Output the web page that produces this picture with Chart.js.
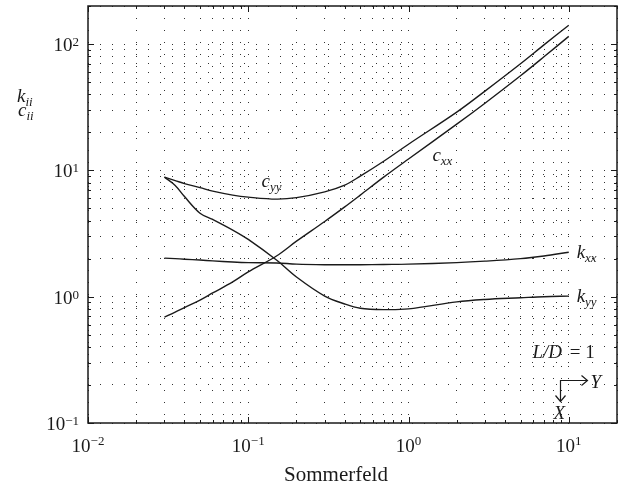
<!DOCTYPE html>
<html>
<head>
<meta charset="utf-8">
<script src="https://cdn.jsdelivr.net/npm/chart.js@4.4.1/dist/chart.umd.min.js"></script>
<style>
body{margin:0;background:#fff;}
#wrap{width:626px;height:491px;}
</style>
</head>
<body>
<div id="wrap"><canvas id="myChart" width="626" height="491"></canvas></div>
<script>
// Sommerfeld number (x) and coefficients
const sommerfeld = [0.03,0.035,0.04,0.05,0.06,0.08,0.1,0.15,0.2,0.3,0.4,0.5,0.7,1,2,3,5,7,10];
const cyy = [8.83,8.30,7.85,7.30,6.84,6.37,6.14,5.92,6.08,6.76,7.64,9.0,11.8,16.1,28.9,42.4,69.8,98.4,141];
const cxx = [0.69,0.755,0.82,0.94,1.07,1.31,1.57,2.10,2.75,3.94,5.14,6.37,8.84,12.3,23.2,34.0,56.1,79.2,115];
const kyy = [8.83,7.6,6.2,4.58,4.09,3.37,2.84,1.95,1.43,1.01,0.875,0.81,0.79,0.80,0.91,0.95,0.98,1.0,1.01];
const kxx = [2.02,2.0,1.98,1.95,1.92,1.88,1.86,1.85,1.81,1.79,1.79,1.79,1.80,1.81,1.86,1.91,2.00,2.10,2.25];

const xMin = 0.01, xMax = 20;
const yMin = 0.1, yMax = 200;
const xTickLabels = [0.01,0.1,1,10];
const yTickLabels = [0.1,1,10,100];

const logGrid = (lo,hi)=>{
    const out = [];
    for(let d = lo; d < hi; d *= 10){
        for(let m = 1; m <= 9; m++){
            const v = +(m*d).toPrecision(3);
            if(v >= lo && v <= hi) out.push(v);
        }
    }
    if(out[out.length-1] !== hi) out.push(hi);
    return out;
}
const gridX = logGrid(xMin,xMax);
const gridY = logGrid(yMin,yMax);

const serif = "'Liberation Serif','DejaVu Serif',serif";
const ink = '#1a1a1a';

const pts = (ys)=> sommerfeld.map((x,i)=>({x:x,y:ys[i]}));
const lineSet = (label,ys)=>({
    label:label,
    data:pts(ys),
    borderColor:ink,
    borderWidth:1.4,
    pointRadius:0,
    fill:false,
    tension:0.35
});

// labels placed in data coordinates
const curveLabels = [
    {main:'c', sub:'yy', x:0.121, y:7.36},
    {main:'c', sub:'xx', x:1.41, y:11.8},
    {main:'k', sub:'xx', x:11.2, y:2.02},
    {main:'k', sub:'yy', x:11.2, y:0.906}
];

const expText = (v)=>{
    const e = Math.round(Math.log10(v));
    return e < 0 ? '\u2212'+(-e) : ''+e;
}

const decoPlugin = {
    id:'deco',
    afterDraw(chart){
        const ctx = chart.ctx;
        const a = chart.chartArea;
        const sx = chart.scales.x, sy = chart.scales.y;
        const px = v=>sx.getPixelForValue(v);
        const py = v=>sy.getPixelForValue(v);
        ctx.save();
        ctx.strokeStyle = ink;
        ctx.fillStyle = ink;

        // inward tick marks
        ctx.lineWidth = 1;
        ctx.beginPath();
        gridX.forEach(v=>{
            const x = Math.round(px(v))+0.5;
            const len = xTickLabels.includes(v) ? 6 : 3;
            ctx.moveTo(x,a.bottom); ctx.lineTo(x,a.bottom-len);
            ctx.moveTo(x,a.top); ctx.lineTo(x,a.top+len);
        });
        gridY.forEach(v=>{
            const y = Math.round(py(v))+0.5;
            const len = yTickLabels.includes(v) ? 6 : 3;
            ctx.moveTo(a.left,y); ctx.lineTo(a.left+len,y);
            ctx.moveTo(a.right,y); ctx.lineTo(a.right-len,y);
        });
        ctx.stroke();

        // frame
        ctx.lineWidth = 1.5;
        ctx.strokeRect(a.left,a.top,a.right-a.left,a.bottom-a.top);

        // y tick labels 10^n
        yTickLabels.forEach(v=>{
            const y = py(v);
            ctx.font = '13px '+serif;
            const ex = expText(v);
            const ew = ctx.measureText(ex).width;
            ctx.textAlign = 'left';
            ctx.textBaseline = 'alphabetic';
            ctx.fillText(ex, 79-ew, y+2);
            ctx.font = '19px '+serif;
            const bw = ctx.measureText('10').width;
            ctx.fillText('10', 79-ew-bw, y+7);
        });

        // x tick labels 10^n
        xTickLabels.forEach(v=>{
            const x = px(v);
            ctx.font = '13px '+serif;
            const ex = expText(v);
            const ew = ctx.measureText(ex).width;
            ctx.font = '19px '+serif;
            const bw = ctx.measureText('10').width;
            const x0 = x-(bw+ew)/2;
            ctx.textAlign = 'left';
            ctx.fillText('10', x0, 452);
            ctx.font = '13px '+serif;
            ctx.fillText(ex, x0+bw, 445);
        });

        // axis titles
        ctx.font = '21px '+serif;
        ctx.textAlign = 'center';
        ctx.fillText('Sommerfeld', 336, 481);

        const subText = (main,sub,x,y)=>{
            ctx.textAlign = 'left';
            ctx.font = 'italic 19px '+serif;
            ctx.fillText(main,x,y);
            const w = ctx.measureText(main).width;
            ctx.font = 'italic 13px '+serif;
            ctx.fillText(sub,x+w,y+4);
        }
        subText('k','ii',17,102);
        subText('c','ii',18,116);

        curveLabels.forEach(l=>subText(l.main,l.sub,px(l.x),py(l.y)));

        // L/D = 1 and axes sketch
        ctx.font = 'italic 19px '+serif;
        ctx.textAlign = 'left';
        const lx = px(5.94), ly = py(0.327);
        ctx.fillText('L/D', lx, ly);
        ctx.font = '19px '+serif;
        ctx.fillText(' = 1', lx+ctx.measureText('L/D').width+2, ly);

        const cx = Math.round(px(8.76))+0.5, cy = Math.round(py(0.219))+0.5;
        ctx.lineWidth = 1.2;
        ctx.beginPath();
        ctx.moveTo(cx+27,cy); ctx.lineTo(cx,cy); ctx.lineTo(cx,cy+21);
        ctx.moveTo(cx+21,cy-5); ctx.lineTo(cx+27,cy); ctx.lineTo(cx+21,cy+5);
        ctx.moveTo(cx-5,cy+15); ctx.lineTo(cx,cy+21); ctx.lineTo(cx+5,cy+15);
        ctx.stroke();
        ctx.font = 'italic 19px '+serif;
        ctx.fillText('Y', cx+30, cy+7);
        ctx.fillText('X', cx-7, cy+38);
        ctx.restore();
    }
};

const ctx = document.getElementById('myChart').getContext('2d');
const myChart = new Chart(ctx,{
    type:'line',
    data:{
        datasets:[
            lineSet('c_yy',cyy),
            lineSet('c_xx',cxx),
            lineSet('k_yy',kyy),
            lineSet('k_xx',kxx)
        ]
    },
    options:{
        responsive:false,
        animation:false,
        layout:{padding:{left:88,top:6,right:9,bottom:68}},
        plugins:{legend:{display:false},tooltip:{enabled:false}},
        scales:{
            x:{
                type:'logarithmic',
                min:xMin, max:xMax,
                afterBuildTicks:(axis)=>{ axis.ticks = gridX.map(v=>({value:v})); },
                ticks:{display:false},
                grid:{color:'#333',lineWidth:1,drawTicks:false},
                border:{display:false,dash:[1,11]}
            },
            y:{
                type:'logarithmic',
                min:yMin, max:yMax,
                afterBuildTicks:(axis)=>{ axis.ticks = gridY.map(v=>({value:v})); },
                ticks:{display:false},
                grid:{color:'#333',lineWidth:1,drawTicks:false},
                border:{display:false,dash:[1,11]}
            }
        }
    },
    plugins:[decoPlugin]
});
</script>
</body>
</html>
